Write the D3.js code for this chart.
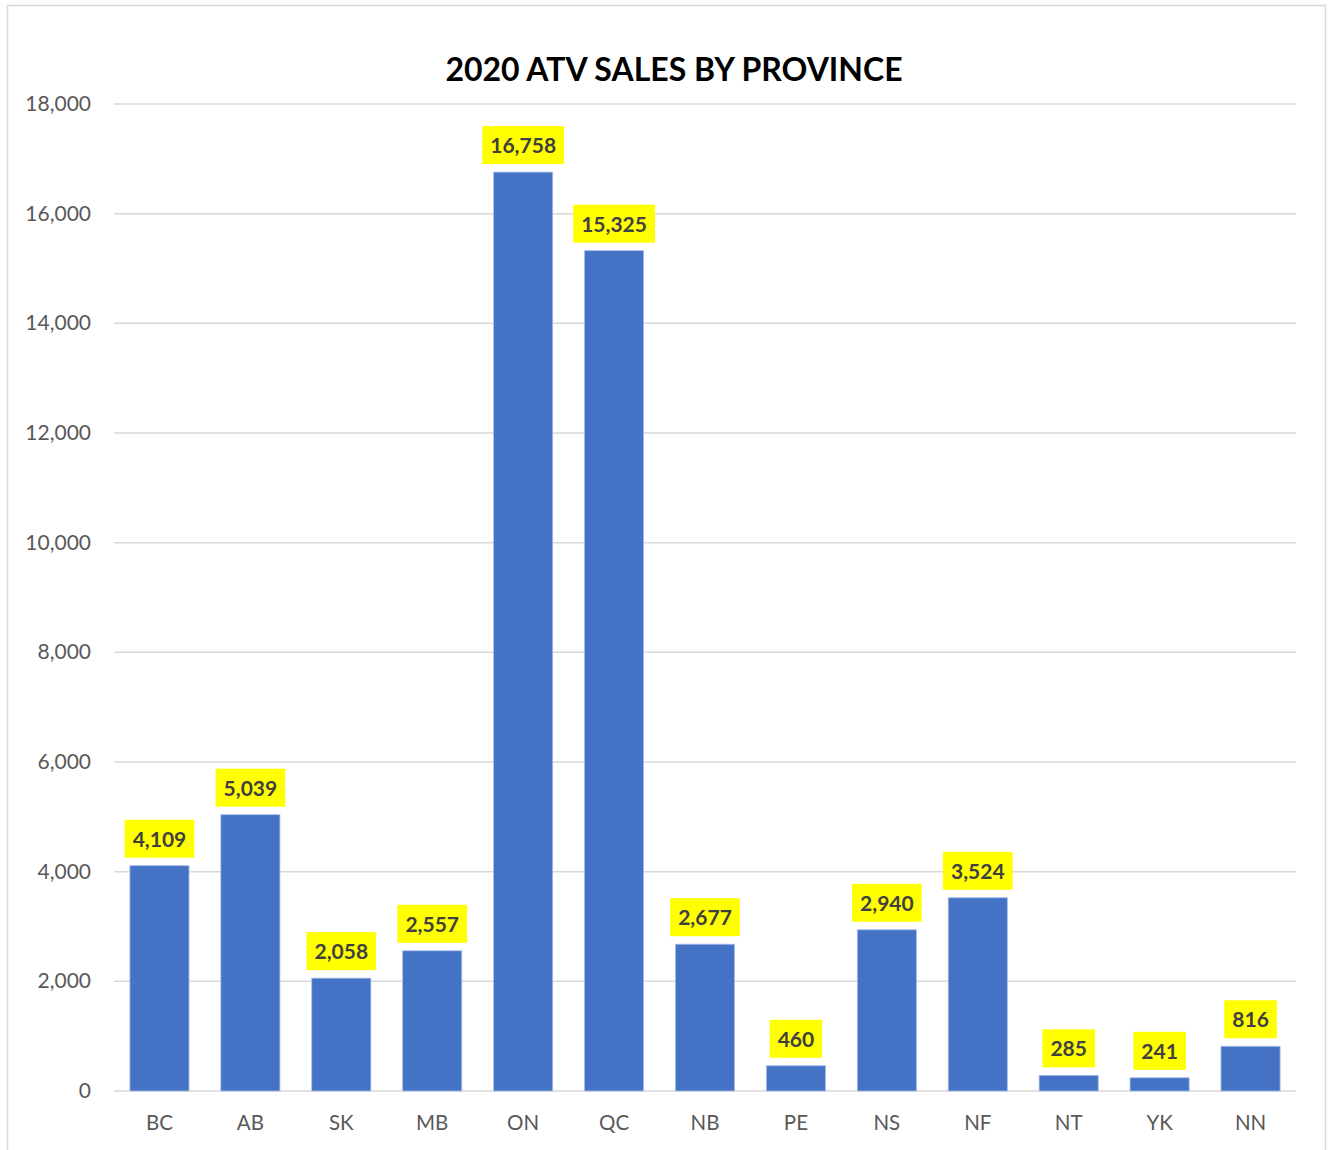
<!DOCTYPE html>
<html>
<head>
<meta charset="utf-8">
<script src="https://cdn.jsdelivr.net/npm/d3@7"></script>
<style>
  body { margin: 0; background: #fff; }
  svg text { font-family: Lato, "Open Sans", sans-serif; }
</style>
</head>
<body>
<div id="chart"></div>
<script>
// data
const provinces = ["BC", "AB", "SK", "MB", "ON", "QC", "NB", "PE", "NS", "NF", "NT", "YK", "NN"];
const sales = [4109, 5039, 2058, 2557, 16758, 15325, 2677, 460, 2940, 3524, 285, 241, 816];
const yTicks = [0, 2000, 4000, 6000, 8000, 10000, 12000, 14000, 16000, 18000];

const width = 1328, height = 1150;
const plotLeft = 114, plotRight = 1296, plotTop = 104, plotBottom = 1091;

const svg = d3.select("#chart").append("svg")
    .attr("width", width)
    .attr("height", height);

// chart frame
svg.append("rect")
    .attr("x", 7.5).attr("y", 5.5)
    .attr("width", 1318).attr("height", 1160)
    .style("fill", "#fff")
    .style("stroke", "#d9d9d9")
    .style("stroke-width", 1.5);

const x = d3.scaleBand()
    .domain(provinces)
    .range([plotLeft, plotRight])
    .paddingInner(0.35)
    .paddingOuter(0.175);

const y = d3.scaleLinear()
    .domain([0, 18000])
    .range([plotBottom, plotTop]);

// gridlines
svg.append("g")
    .selectAll("line")
    .data(yTicks)
    .enter()
    .append("line")
    .attr("x1", plotLeft).attr("x2", plotRight)
    .attr("y1", d => y(d)).attr("y2", d => y(d))
    .style("stroke", "#d9d9d9")
    .style("stroke-width", 1.5);

// y axis labels
const fmt = d3.format(",");
svg.append("g")
    .selectAll("text")
    .data(yTicks)
    .enter()
    .append("text")
    .attr("x", 91)
    .attr("y", d => y(d) + 7)
    .attr("text-anchor", "end")
    .style("font-size", "21px")
    .style("fill", "#595959")
    .text(d => fmt(d));

// bars
svg.append("g")
    .selectAll("rect")
    .data(provinces)
    .enter()
    .append("rect")
    .attr("x", d => x(d))
    .attr("width", x.bandwidth())
    .attr("y", (d, i) => y(sales[i]))
    .attr("height", (d, i) => y(0) - y(sales[i]))
    .style("fill", "#4472C4")
    .style("stroke", "#a9bde6")
    .style("stroke-width", 0.8);

// x axis labels
svg.append("g")
    .selectAll("text")
    .data(provinces)
    .enter()
    .append("text")
    .attr("x", d => x(d) + x.bandwidth() / 2)
    .attr("y", 1130)
    .attr("text-anchor", "middle")
    .style("font-size", "20.5px")
    .style("fill", "#595959")
    .text(d => d);

// value labels on yellow boxes
const lab = svg.append("g")
    .selectAll("g")
    .data(provinces)
    .enter()
    .append("g")
    .attr("transform", (d, i) => `translate(${x(d) + x.bandwidth() / 2},${y(sales[i]) - 8})`);

lab.append("text")
    .attr("y", -11)
    .attr("text-anchor", "middle")
    .style("font-size", "21px")
    .style("font-weight", "bold")
    .style("fill", "#404040")
    .text((d, i) => fmt(sales[i]));

lab.each(function () {
    const g = d3.select(this);
    const bb = g.select("text").node().getBBox();
    g.insert("rect", "text")
        .attr("x", bb.x - 8)
        .attr("y", -38)
        .attr("width", bb.width + 16)
        .attr("height", 38)
        .style("fill", "#ffff00");
});

// title
svg.append("text")
    .attr("x", 674)
    .attr("y", 81)
    .attr("text-anchor", "middle")
    .style("font-size", "32px")
    .style("font-weight", "bold")
    .style("fill", "#000")
    .text("2020 ATV SALES BY PROVINCE");
</script>
</body>
</html>
